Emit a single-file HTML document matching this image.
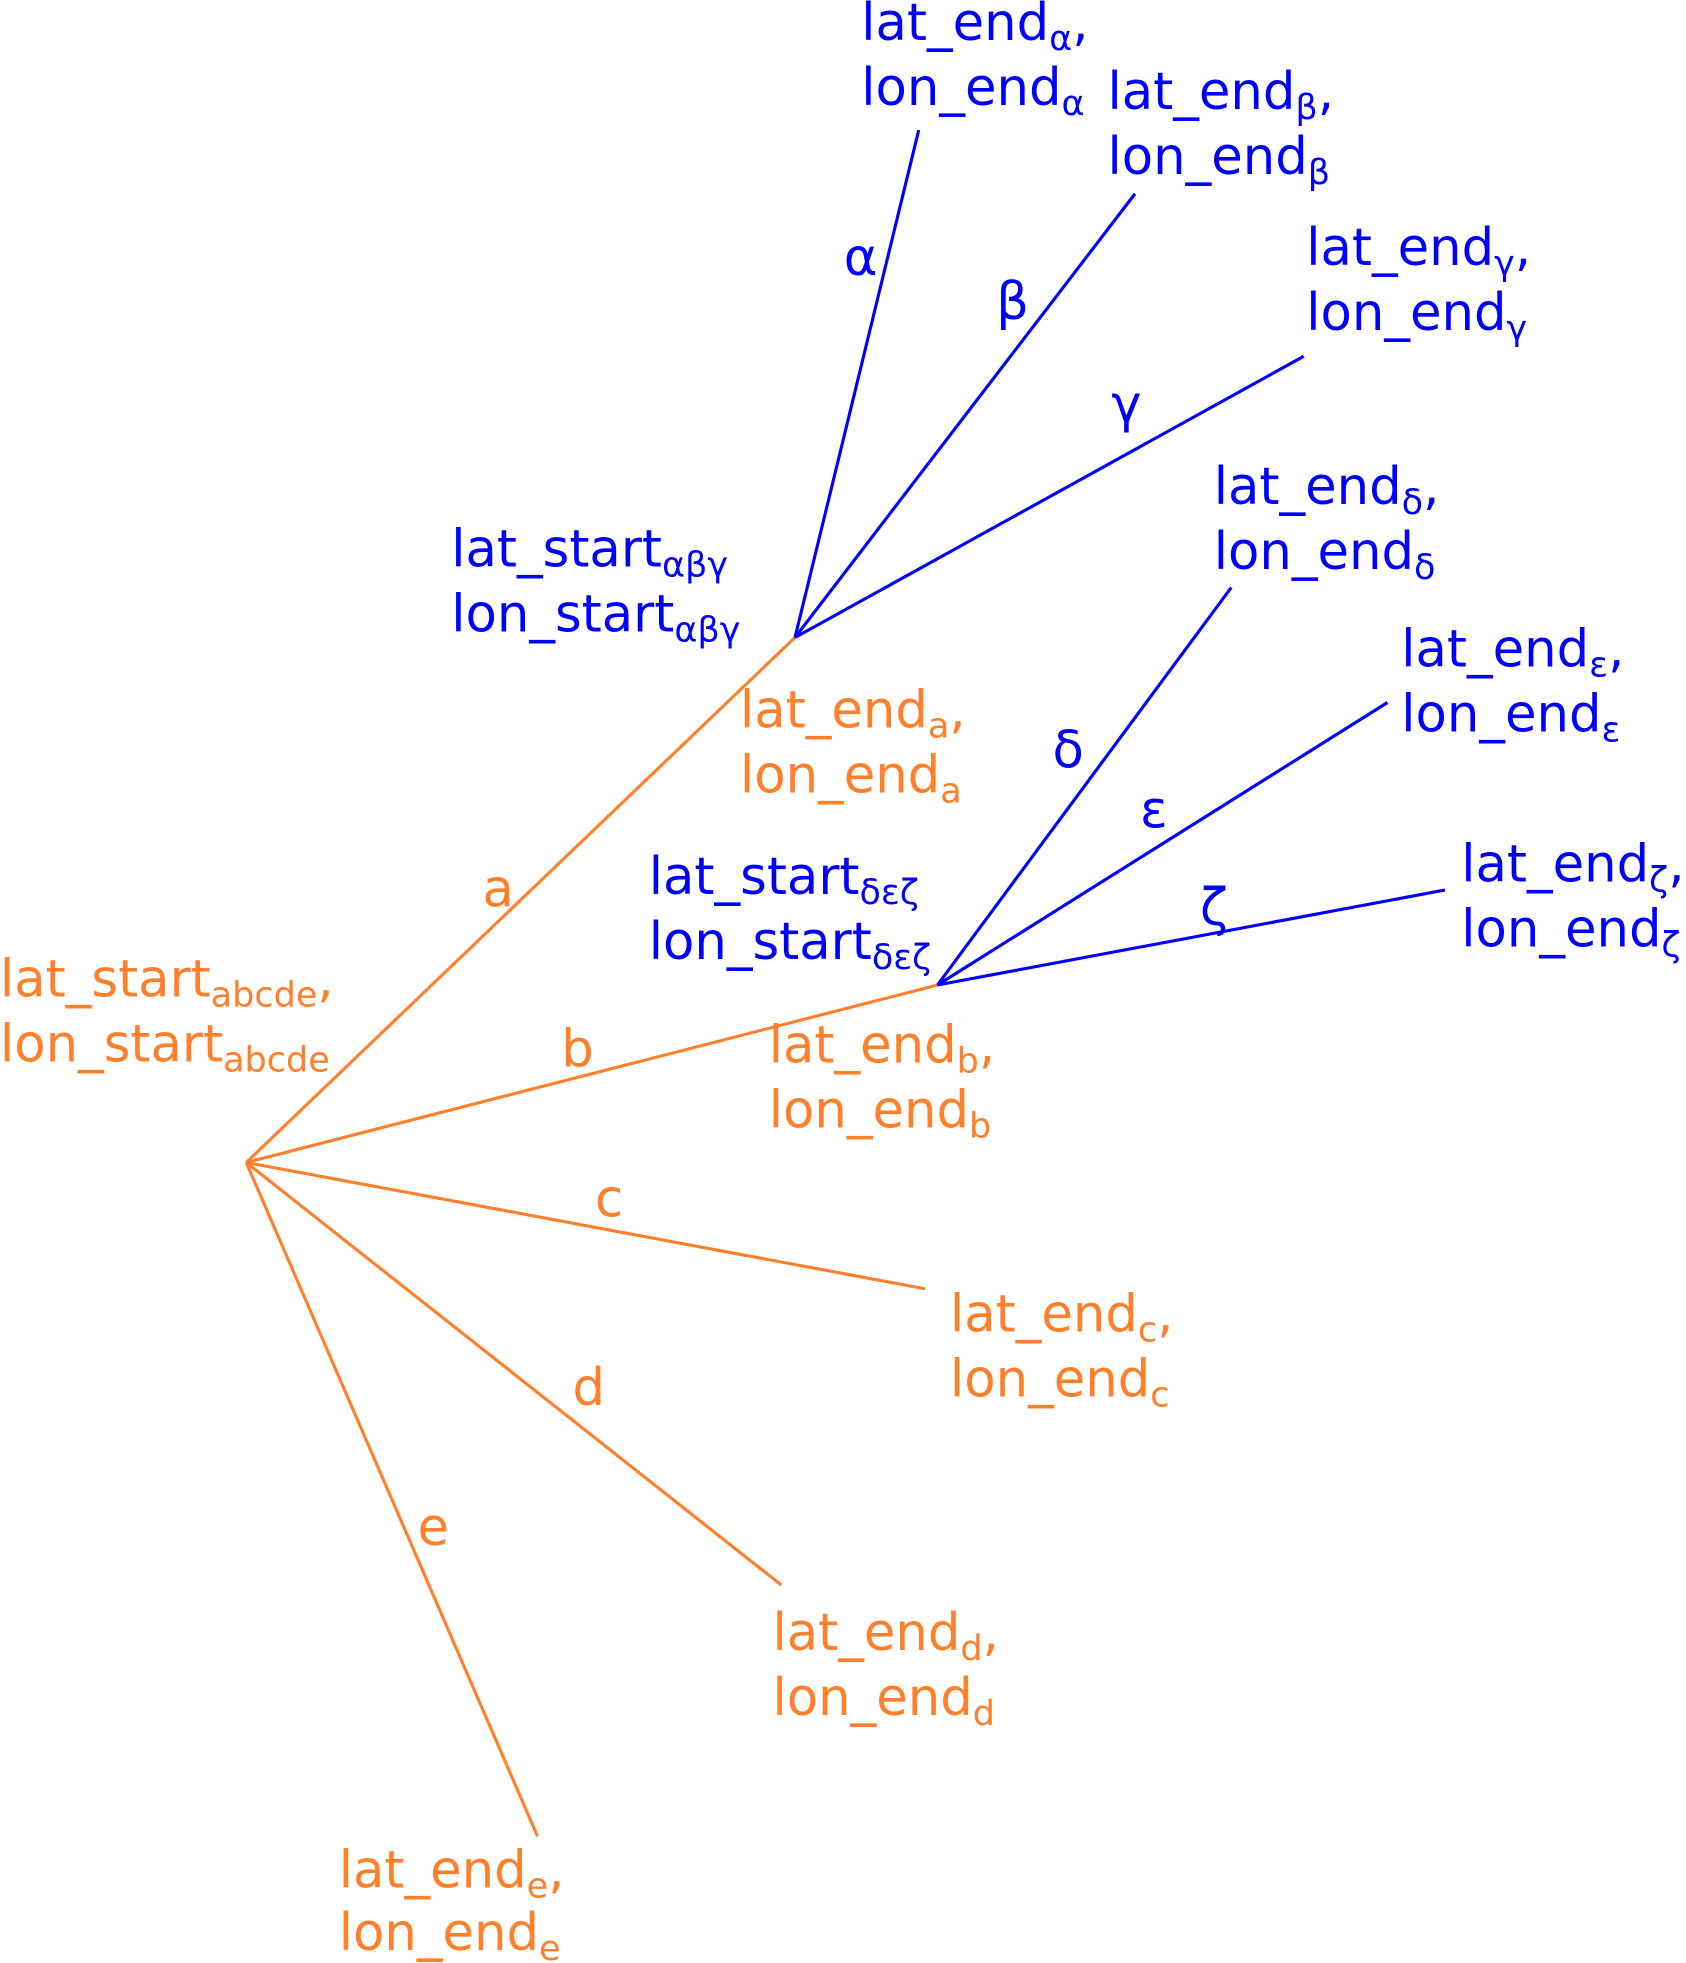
<!DOCTYPE html>
<html><head><meta charset="utf-8"><style>html,body{margin:0;padding:0;background:#fff}svg{display:block}</style></head>
<body>
<svg width="1686" height="1963" viewBox="0 0 1348.8 1570.4" xmlns="http://www.w3.org/2000/svg" font-family="DejaVu Sans, Liberation Sans, sans-serif" font-size="41">
<g stroke="#ff7f2a" stroke-width="2.5" fill="none">
<line x1="197" y1="930" x2="636" y2="510"/>
<line x1="197" y1="930" x2="750" y2="788"/>
<line x1="197" y1="930" x2="740" y2="1031"/>
<line x1="197" y1="930" x2="625" y2="1268"/>
<line x1="197" y1="930" x2="430" y2="1469"/>
</g>
<g stroke="#0000ff" stroke-width="2.5" fill="none">
<line x1="636" y1="510" x2="735" y2="104"/>
<line x1="636" y1="510" x2="908" y2="155"/>
<line x1="636" y1="510" x2="1043" y2="285"/>
<line x1="750" y1="788" x2="985" y2="470"/>
<line x1="750" y1="788" x2="1110" y2="562"/>
<line x1="750" y1="788" x2="1156" y2="712"/>
</g>
<g fill="#0000ff">
<text x="689" y="32">lat_end<tspan font-size="28" dy="8">α</tspan><tspan dy="-8">,</tspan></text>
<text x="689" y="84">lon_end<tspan font-size="28" dy="8">α</tspan></text>
<text x="886" y="87">lat_end<tspan font-size="28" dy="8">β</tspan><tspan dy="-8">,</tspan></text>
<text x="886" y="139">lon_end<tspan font-size="28" dy="8">β</tspan></text>
<text x="1045" y="212">lat_end<tspan font-size="28" dy="8">γ</tspan><tspan dy="-8">,</tspan></text>
<text x="1045" y="264">lon_end<tspan font-size="28" dy="8">γ</tspan></text>
<text x="971" y="403">lat_end<tspan font-size="28" dy="8">δ</tspan><tspan dy="-8">,</tspan></text>
<text x="971" y="455">lon_end<tspan font-size="28" dy="8">δ</tspan></text>
<text x="1121" y="533">lat_end<tspan font-size="28" dy="8">ε</tspan><tspan dy="-8">,</tspan></text>
<text x="1121" y="585">lon_end<tspan font-size="28" dy="8">ε</tspan></text>
<text x="1169" y="705">lat_end<tspan font-size="28" dy="8">ζ</tspan><tspan dy="-8">,</tspan></text>
<text x="1169" y="757">lon_end<tspan font-size="28" dy="8">ζ</tspan></text>
<text x="361" y="453">lat_start<tspan font-size="28" dy="8">αβγ</tspan></text>
<text x="361" y="505">lon_start<tspan font-size="28" dy="8">αβγ</tspan></text>
<text x="519" y="715">lat_start<tspan font-size="28" dy="8">δεζ</tspan></text>
<text x="519" y="767">lon_start<tspan font-size="28" dy="8">δεζ</tspan></text>
<text x="675" y="220">α</text>
<text x="797" y="255">β</text>
<text x="889" y="337">γ</text>
<text x="842" y="614">δ</text>
<text x="912" y="662">ε</text>
<text x="960" y="740">ζ</text>
</g>
<g fill="#ff7f2a">
<text x="592" y="582">lat_end<tspan font-size="28" dy="8">a</tspan><tspan dy="-8">,</tspan></text>
<text x="592" y="634">lon_end<tspan font-size="28" dy="8">a</tspan></text>
<text x="0" y="797">lat_start<tspan font-size="28" dy="8">abcde</tspan><tspan dy="-8">,</tspan></text>
<text x="0" y="849">lon_start<tspan font-size="28" dy="8">abcde</tspan></text>
<text x="615" y="850">lat_end<tspan font-size="28" dy="8">b</tspan><tspan dy="-8">,</tspan></text>
<text x="615" y="902">lon_end<tspan font-size="28" dy="8">b</tspan></text>
<text x="760" y="1065">lat_end<tspan font-size="28" dy="8">c</tspan><tspan dy="-8">,</tspan></text>
<text x="760" y="1117">lon_end<tspan font-size="28" dy="8">c</tspan></text>
<text x="618" y="1320">lat_end<tspan font-size="28" dy="8">d</tspan><tspan dy="-8">,</tspan></text>
<text x="618" y="1372">lon_end<tspan font-size="28" dy="8">d</tspan></text>
<text x="271" y="1510">lat_end<tspan font-size="28" dy="8">e</tspan><tspan dy="-8">,</tspan></text>
<text x="271" y="1560">lon_end<tspan font-size="28" dy="8">e</tspan></text>
<text x="386" y="725">a</text>
<text x="449" y="853">b</text>
<text x="476" y="973">c</text>
<text x="458" y="1124">d</text>
<text x="334" y="1236">e</text>
</g>
</svg>
</body></html>
